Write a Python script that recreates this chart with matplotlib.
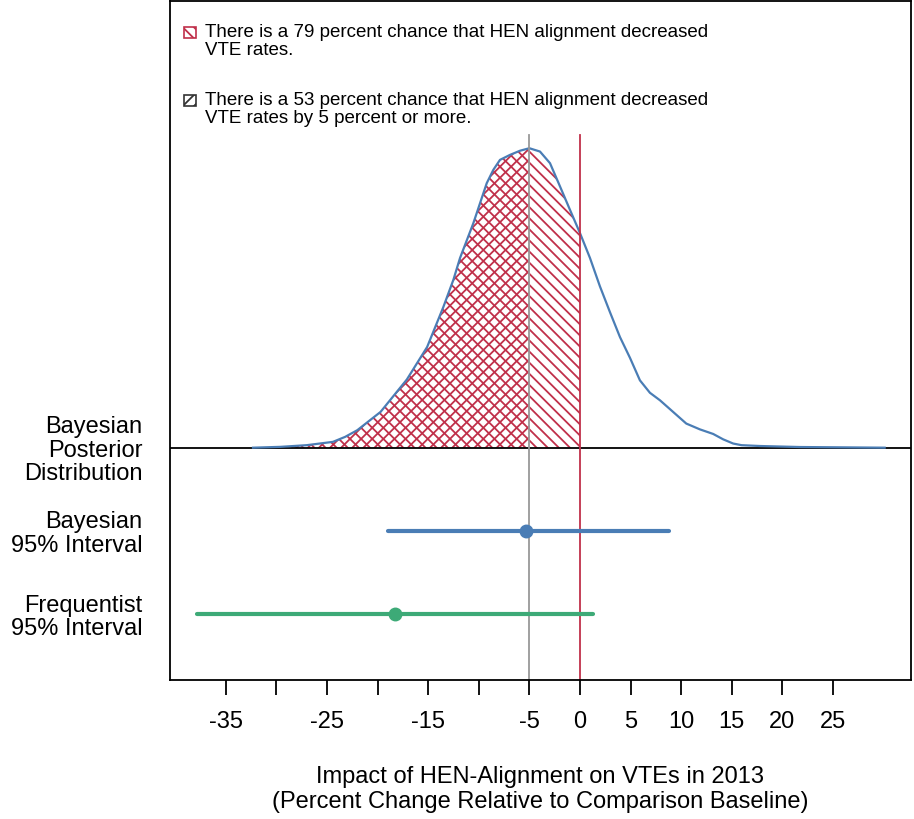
import matplotlib
matplotlib.use("Agg")
import matplotlib.pyplot as plt
from matplotlib.patches import Rectangle
import numpy as np

# posterior density (x = percent change, height in plot units)
dens_x = [-32.3, -29.6, -27.0, -24.4, -23.2, -22.0, -19.7, -17.1, -15.1, -13.5,
          -12.5, -11.85, -10.53, -9.21, -8.56, -7.9, -6.91, -5.92, -5.0, -3.95,
          -2.96, -1.97, -0.99, 0.0, 0.99, 1.97, 2.96, 3.95, 4.94, 5.92,
          6.91, 7.9, 9.2, 10.5, 11.85, 13.16, 14.15, 15.13, 15.96, 17.8,
          21.7, 30.1]
dens_h = [0.0, 0.01, 0.03, 0.07, 0.13, 0.21, 0.43, 0.82, 1.21, 1.69,
          2.02, 2.28, 2.70, 3.18, 3.34, 3.46, 3.52, 3.57, 3.60, 3.56,
          3.42, 3.14, 2.86, 2.58, 2.28, 1.94, 1.63, 1.33, 1.08, 0.81,
          0.66, 0.57, 0.43, 0.29, 0.22, 0.165, 0.10, 0.05, 0.03, 0.02,
          0.008, 0.0]

# intervals: (lower, point, upper)
bayes_ci = [-19.0, -5.36, 8.8]
freq_ci = [-37.8, -18.3, 1.25]

row_labels = ["Frequentist\n95% Interval", "Bayesian\n95% Interval",
              "Bayesian\nPosterior\nDistribution"]
row_pos = [1, 2, 3]

tick_vals = list(range(-35, 30, 5))
tick_text = ["-35", "", "-25", "", "-15", "", "-5", "0", "5", "10", "15", "20", "25"]

legend_text = ["There is a 79 percent chance that HEN alignment decreased\nVTE rates.",
               "There is a 53 percent chance that HEN alignment decreased\nVTE rates by 5 percent or more."]

red = "#C0304A"
blue = "#4A7DB5"
green = "#3DAA77"

plt.rcParams['font.family'] = ['Liberation Sans', 'DejaVu Sans']
plt.rcParams['hatch.linewidth'] = 1.3

fig = plt.figure(figsize=(9.14, 8.19), dpi=100)
ax = fig.add_axes([0.186, 0.1697, 0.8107, 0.8291])

x = np.array(dens_x)
h = np.array(dens_h)
base = row_pos[2]

# hatched areas
m0 = x <= 0
ax.fill_between(x[m0], base, base + h[m0], facecolor="none", edgecolor=red,
                hatch="\\\\\\", linewidth=0)
m5 = x <= -5
ax.fill_between(x[m5], base, base + h[m5], facecolor="none", edgecolor=red,
                hatch="///", linewidth=0)

ax.axhline(base, color="black", lw=1.3)
ax.plot(x, base + h, color=blue, lw=1.6)

# reference lines
ax.plot([-5, -5], [0, 6.76], color="#999999", lw=1.3)
ax.plot([0, 0], [0, 6.76], color=red, lw=1.3)

# intervals
ax.plot([bayes_ci[0], bayes_ci[2]], [2, 2], color=blue, lw=3, solid_capstyle="round")
ax.plot(bayes_ci[1], 2, "o", color=blue, ms=9)
ax.plot([freq_ci[0], freq_ci[2]], [1, 1], color=green, lw=3, solid_capstyle="round")
ax.plot(freq_ci[1], 1, "o", color=green, ms=9)

ax.set_xlim(-40.5, 32.7)
ax.set_ylim(0.207, 8.37)

ax.set_xticks(tick_vals)
ax.set_xticklabels(tick_text, fontsize=17)
ax.tick_params(axis="x", length=11, width=1.3, pad=11)
ax.set_yticks(row_pos)
ax.set_yticklabels(row_labels, fontsize=17, linespacing=1.09)
ax.tick_params(axis="y", length=0, pad=20)
for s in ax.spines.values():
    s.set_linewidth(1.3)

ax.set_xlabel("Impact of HEN-Alignment on VTEs in 2013\n(Percent Change Relative to Comparison Baseline)",
              fontsize=17, labelpad=24, linespacing=1.16)

# legend drawn by hand
sq_w, sq_h = 12 / 739, 11 / 679
ax.add_patch(Rectangle((0.0195, 0.945), sq_w, sq_h, transform=ax.transAxes,
                       facecolor="none", edgecolor=red, hatch="\\\\\\", lw=1.2))
ax.add_patch(Rectangle((0.0195, 0.845), sq_w, sq_h, transform=ax.transAxes,
                       facecolor="none", edgecolor="#333333", hatch="///", lw=1.2))
ax.text(0.047, 0.966, legend_text[0], transform=ax.transAxes, fontsize=13.5,
        va="top", linespacing=1.05)
ax.text(0.047, 0.866, legend_text[1], transform=ax.transAxes, fontsize=13.5,
        va="top", linespacing=1.05)

fig.savefig("out.png", dpi=100)
